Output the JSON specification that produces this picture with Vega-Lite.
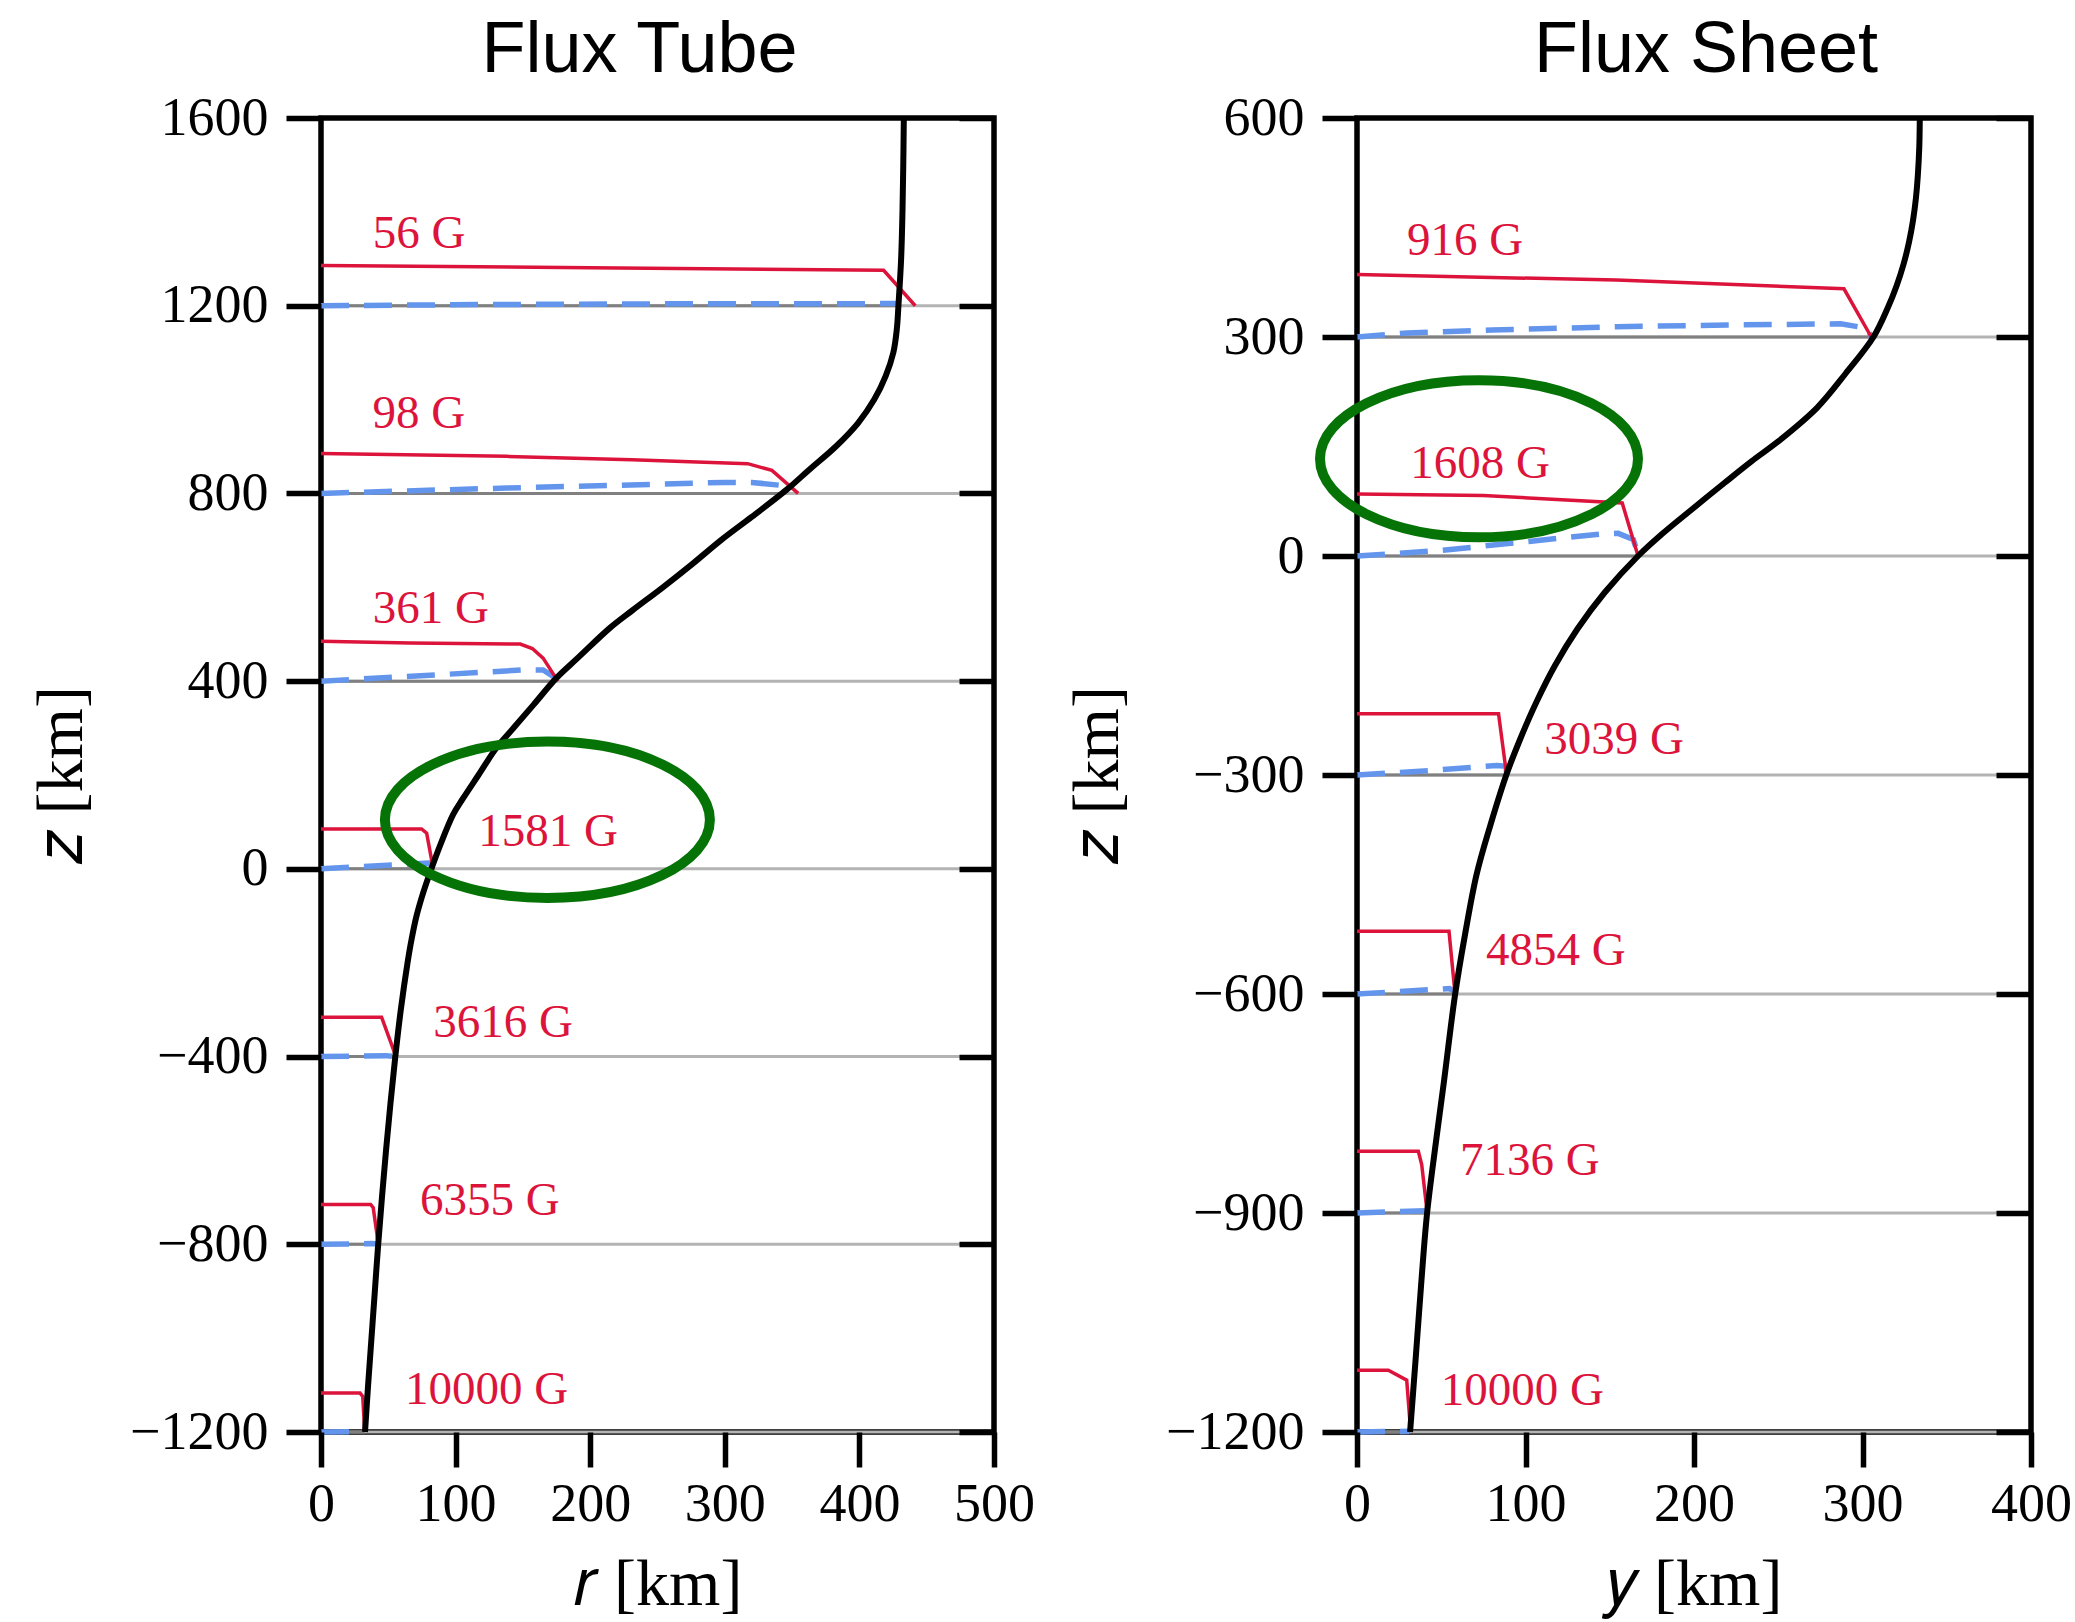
{
  "$schema": "https://vega.github.io/schema/vega-lite/v6.json",
  "background": "white",
  "padding": {"left": 25, "top": 11, "right": 10, "bottom": 0},
  "bounds": "flush",
  "spacing": 363,
  "config": {
    "view": {"stroke": "black", "strokeWidth": 5.5},
    "axis": {
      "domain": false, "grid": false, "tickColor": "black", "tickWidth": 5.5, "tickSize": 35,
      "labelFont": "Liberation Serif", "labelFontSize": 54, "labelColor": "black",
      "labelFlush": false, "labelOverlap": false, "labelBound": false,
      "titleFont": "Liberation Serif", "titleFontSize": 66, "titleFontWeight": "normal", "titleColor": "black",
      "format": "d"
    },
    "axisX": {"labelPadding": 10, "titlePadding": 21},
    "axisY": {"labelPadding": 18, "titlePadding": 34},
    "title": {"font": "Liberation Sans", "fontSize": 72, "fontWeight": "normal", "color": "black", "baseline": "alphabetic", "offset": 4, "frame": "group", "anchor": "middle"},
    "line": {"strokeCap": "butt"}
  },
  "datasets": {
    "tubeCurve": [
      {"r": 433, "z": 1600}, {"r": 432.6, "z": 1500}, {"r": 432, "z": 1400}, {"r": 431, "z": 1300},
      {"r": 429, "z": 1200}, {"r": 427.8, "z": 1150}, {"r": 425.2, "z": 1100}, {"r": 419.5, "z": 1050},
      {"r": 411, "z": 1000}, {"r": 399, "z": 950}, {"r": 382.5, "z": 900}, {"r": 362.5, "z": 850},
      {"r": 346, "z": 808}, {"r": 320, "z": 750}, {"r": 297, "z": 700}, {"r": 276, "z": 650},
      {"r": 254, "z": 600}, {"r": 231, "z": 550}, {"r": 214.5, "z": 513}, {"r": 191, "z": 450},
      {"r": 175, "z": 407}, {"r": 158, "z": 350}, {"r": 143, "z": 300}, {"r": 130.4, "z": 258},
      {"r": 117, "z": 200}, {"r": 105.5, "z": 150}, {"r": 98.2, "z": 116}, {"r": 88.5, "z": 50},
      {"r": 82, "z": 0}, {"r": 76, "z": -50}, {"r": 71, "z": -100}, {"r": 67.3, "z": -150},
      {"r": 64.3, "z": -200}, {"r": 59.3, "z": -300}, {"r": 55.2, "z": -400}, {"r": 51.6, "z": -500},
      {"r": 48.3, "z": -600}, {"r": 45.3, "z": -700}, {"r": 42.5, "z": -800}, {"r": 40, "z": -900},
      {"r": 37.5, "z": -1000}, {"r": 35, "z": -1100}, {"r": 32.7, "z": -1200}
    ],
    "tubeLevels": [
      {"z": 1200, "r": 429}, {"z": 800, "r": 345}, {"z": 400, "r": 174}, {"z": 0, "r": 82},
      {"z": -400, "r": 55}, {"z": -800, "r": 42.5}, {"z": -1200, "r": 32.7}
    ],
    "tubeRed": [
      {"level": 1200, "r": 0, "z": 1285.5}, {"level": 1200, "r": 200, "z": 1281}, {"level": 1200, "r": 418, "z": 1275.5}, {"level": 1200, "r": 441.5, "z": 1200},
      {"level": 800, "r": 0, "z": 885}, {"level": 800, "r": 138, "z": 879}, {"level": 800, "r": 231, "z": 872}, {"level": 800, "r": 317, "z": 863.5}, {"level": 800, "r": 335, "z": 849}, {"level": 800, "r": 354.5, "z": 800},
      {"level": 400, "r": 0, "z": 485}, {"level": 400, "r": 66, "z": 481.5}, {"level": 400, "r": 148, "z": 479}, {"level": 400, "r": 157, "z": 469.5}, {"level": 400, "r": 165, "z": 449}, {"level": 400, "r": 176, "z": 400},
      {"level": 0, "r": 0, "z": 85}, {"level": 0, "r": 74.7, "z": 85}, {"level": 0, "r": 78.5, "z": 76}, {"level": 0, "r": 83.4, "z": 0},
      {"level": -400, "r": 0, "z": -316}, {"level": -400, "r": 45, "z": -316}, {"level": -400, "r": 55.7, "z": -400},
      {"level": -800, "r": 0, "z": -715}, {"level": -800, "r": 36.9, "z": -715}, {"level": -800, "r": 38.8, "z": -722}, {"level": -800, "r": 42.6, "z": -800},
      {"level": -1200, "r": 0, "z": -1117}, {"level": -1200, "r": 29, "z": -1117}, {"level": -1200, "r": 31, "z": -1124}, {"level": -1200, "r": 32.5, "z": -1200}
    ],
    "tubeBlue": [
      {"level": 1200, "r": 0, "z": 1200}, {"level": 1200, "r": 120, "z": 1202.5}, {"level": 1200, "r": 260, "z": 1204}, {"level": 1200, "r": 428, "z": 1204.5},
      {"level": 800, "r": 0, "z": 800}, {"level": 800, "r": 138, "z": 811.5}, {"level": 800, "r": 230, "z": 818}, {"level": 800, "r": 300, "z": 823.5}, {"level": 800, "r": 320, "z": 823.5}, {"level": 800, "r": 346, "z": 816}, {"level": 800, "r": 347, "z": 808},
      {"level": 400, "r": 0, "z": 400}, {"level": 400, "r": 90, "z": 414}, {"level": 400, "r": 150, "z": 424}, {"level": 400, "r": 165, "z": 424}, {"level": 400, "r": 172.5, "z": 410}, {"level": 400, "r": 175, "z": 403},
      {"level": 0, "r": 0, "z": 0}, {"level": 0, "r": 66, "z": 10.6}, {"level": 0, "r": 80, "z": 12.5}, {"level": 0, "r": 83, "z": 3},
      {"level": -400, "r": 0, "z": -400}, {"level": -400, "r": 48, "z": -398}, {"level": -400, "r": 55.5, "z": -400},
      {"level": -800, "r": 0, "z": -800}, {"level": -800, "r": 38, "z": -798.5}, {"level": -800, "r": 42.5, "z": -800},
      {"level": -1200, "r": 0, "z": -1200}, {"level": -1200, "r": 32, "z": -1199}
    ],
    "tubeLabels": [
      {"label": "56 G", "r": 38.4, "z": 1323},
      {"label": "98 G", "r": 38.3, "z": 939},
      {"label": "361 G", "r": 38.4, "z": 524},
      {"label": "1581 G", "r": 116.8, "z": 48},
      {"label": "3616 G", "r": 83.4, "z": -359},
      {"label": "6355 G", "r": 73.5, "z": -737},
      {"label": "10000 G", "r": 62.4, "z": -1140}
    ],
    "tubeMark": [{"r": 168.2, "z": 104.6}],
    "sheetCurve": [
      {"y": 334, "z": 600}, {"y": 333.7, "z": 560}, {"y": 332.8, "z": 520}, {"y": 331.7, "z": 490},
      {"y": 330, "z": 460}, {"y": 327.6, "z": 430}, {"y": 324.4, "z": 400}, {"y": 320.2, "z": 370},
      {"y": 315, "z": 340}, {"y": 306.5, "z": 300}, {"y": 290, "z": 250}, {"y": 273, "z": 203},
      {"y": 250, "z": 157}, {"y": 234.3, "z": 130}, {"y": 218, "z": 100}, {"y": 197.2, "z": 61},
      {"y": 181, "z": 30}, {"y": 166.8, "z": 0}, {"y": 147, "z": -50}, {"y": 130.8, "z": -100},
      {"y": 117.5, "z": -150}, {"y": 106.5, "z": -200}, {"y": 97, "z": -250}, {"y": 88.6, "z": -300},
      {"y": 79, "z": -370}, {"y": 71, "z": -436}, {"y": 64, "z": -520}, {"y": 58.2, "z": -601},
      {"y": 51.6, "z": -720}, {"y": 47, "z": -800}, {"y": 41.6, "z": -900}, {"y": 38, "z": -1000},
      {"y": 34.8, "z": -1100}, {"y": 31.5, "z": -1200}
    ],
    "sheetLevels": [
      {"z": 300, "y": 305.5}, {"z": 0, "y": 166.8}, {"z": -300, "y": 88.8},
      {"z": -600, "y": 58.2}, {"z": -900, "y": 41.4}, {"z": -1200, "y": 31.5}
    ],
    "sheetRed": [
      {"level": 300, "y": 0, "z": 385.5}, {"level": 300, "y": 154, "z": 378}, {"level": 300, "y": 289, "z": 366}, {"level": 300, "y": 305.2, "z": 300},
      {"level": 0, "y": 0, "z": 85}, {"level": 0, "y": 75, "z": 83}, {"level": 0, "y": 157.4, "z": 72.6}, {"level": 0, "y": 166.8, "z": 0},
      {"level": -300, "y": 0, "z": -216}, {"level": -300, "y": 84, "z": -216}, {"level": -300, "y": 88.8, "z": -300},
      {"level": -600, "y": 0, "z": -514}, {"level": -600, "y": 54.6, "z": -514}, {"level": -600, "y": 58.2, "z": -600},
      {"level": -900, "y": 0, "z": -815.5}, {"level": -900, "y": 36.4, "z": -815.5}, {"level": -900, "y": 38.4, "z": -833.7}, {"level": -900, "y": 41.7, "z": -900},
      {"level": -1200, "y": 0, "z": -1115.5}, {"level": -1200, "y": 18.6, "z": -1115.5}, {"level": -1200, "y": 29.5, "z": -1129}, {"level": -1200, "y": 31.9, "z": -1200}
    ],
    "sheetBlue": [
      {"level": 300, "y": 0, "z": 300}, {"level": 300, "y": 30, "z": 305.5}, {"level": 300, "y": 80, "z": 309.5}, {"level": 300, "y": 154, "z": 314}, {"level": 300, "y": 220, "z": 316.5}, {"level": 300, "y": 287, "z": 318}, {"level": 300, "y": 303, "z": 312}, {"level": 300, "y": 305.2, "z": 300},
      {"level": 0, "y": 0, "z": 0}, {"level": 0, "y": 49, "z": 7.4}, {"level": 0, "y": 102, "z": 20}, {"level": 0, "y": 144, "z": 30}, {"level": 0, "y": 155, "z": 31}, {"level": 0, "y": 164, "z": 22.5}, {"level": 0, "y": 166.5, "z": 5},
      {"level": -300, "y": 0, "z": -300}, {"level": -300, "y": 43, "z": -294}, {"level": -300, "y": 83, "z": -287}, {"level": -300, "y": 88.5, "z": -288}, {"level": -300, "y": 88.8, "z": -298},
      {"level": -600, "y": 0, "z": -600}, {"level": -600, "y": 55, "z": -592.6}, {"level": -600, "y": 58, "z": -597},
      {"level": -900, "y": 0, "z": -900}, {"level": -900, "y": 40, "z": -897}, {"level": -900, "y": 41.5, "z": -900},
      {"level": -1200, "y": 0, "z": -1200}, {"level": -1200, "y": 31, "z": -1199}
    ],
    "sheetLabels": [
      {"label": "916 G", "y": 29.6, "z": 412},
      {"label": "1608 G", "y": 31.6, "z": 107},
      {"label": "3039 G", "y": 111.2, "z": -270.7},
      {"label": "4854 G", "y": 76.6, "z": -559.8},
      {"label": "7136 G", "y": 61.1, "z": -848.4},
      {"label": "10000 G", "y": 49.7, "z": -1162.5}
    ],
    "sheetMark": [{"y": 72.4, "z": 133.2}]
  },
  "hconcat": [
    {
      "title": {"text": "Flux Tube", "dx": -18},
      "width": 673,
      "height": 1314,
      "resolve": {"axis": {"y": "independent"}},
      "layer": [
        {
          "data": {"name": "tubeLevels"},
          "mark": {"type": "rule", "color": "#b3b3b3", "strokeWidth": 3},
          "encoding": {
            "y": {"field": "z", "type": "quantitative", "scale": {"domain": [-1200, 1600], "nice": false},
                  "axis": {"orient": "right", "labels": false, "title": null, "tickSize": -35, "zindex": 2, "values": [-1200, -800, -400, 0, 400, 800, 1200, 1600]}}
          }
        },
        {
          "layer": [
            {
              "data": {"name": "tubeLevels"},
              "mark": {"type": "rule", "color": "#808080", "strokeWidth": 3},
              "encoding": {
                "x": {"field": "r", "type": "quantitative", "scale": {"domain": [0, 500], "nice": false},
                      "axis": {"orient": "bottom", "title": "𝑟 [km]", "zindex": 2, "values": [0, 100, 200, 300, 400, 500]}},
                "x2": {"datum": 0},
                "y": {"field": "z", "type": "quantitative", "scale": {"domain": [-1200, 1600], "nice": false},
                      "axis": {"orient": "left", "title": "𝑧 [km]", "zindex": 2, "values": [-1200, -800, -400, 0, 400, 800, 1200, 1600]}}
              }
            },
            {
              "data": {"name": "tubeBlue"},
              "mark": {"type": "line", "color": "#6495ED", "strokeWidth": 5.5, "strokeDash": [28, 15]},
              "encoding": {
                "x": {"field": "r", "type": "quantitative", "scale": {"domain": [0, 500], "nice": false}},
                "y": {"field": "z", "type": "quantitative", "scale": {"domain": [-1200, 1600], "nice": false}},
                "detail": {"field": "level", "type": "nominal"}
              }
            },
            {
              "data": {"name": "tubeRed"},
              "mark": {"type": "line", "color": "#DC143C", "strokeWidth": 3.5},
              "encoding": {
                "x": {"field": "r", "type": "quantitative", "scale": {"domain": [0, 500], "nice": false}},
                "y": {"field": "z", "type": "quantitative", "scale": {"domain": [-1200, 1600], "nice": false}},
                "detail": {"field": "level", "type": "nominal"}
              }
            },
            {
              "data": {"name": "tubeCurve"},
              "mark": {"type": "line", "color": "black", "strokeWidth": 6, "interpolate": "catmull-rom"},
              "encoding": {
                "x": {"field": "r", "type": "quantitative", "scale": {"domain": [0, 500], "nice": false}},
                "y": {"field": "z", "type": "quantitative", "scale": {"domain": [-1200, 1600], "nice": false}},
                "order": {"field": "z", "type": "quantitative"}
              }
            },
            {
              "data": {"name": "tubeLabels"},
              "mark": {"type": "text", "color": "#DC143C", "font": "Liberation Serif", "fontSize": 47, "align": "left", "baseline": "alphabetic"},
              "encoding": {
                "x": {"field": "r", "type": "quantitative", "scale": {"domain": [0, 500], "nice": false}},
                "y": {"field": "z", "type": "quantitative", "scale": {"domain": [-1200, 1600], "nice": false}},
                "text": {"field": "label", "type": "nominal"}
              }
            },
            {
              "data": {"name": "tubeMark"},
              "mark": {"type": "point", "shape": "M -1 0 A 1 0.481 0 1 0 1 0 A 1 0.481 0 1 0 -1 0 Z", "filled": false, "color": "#067306", "strokeWidth": 10, "size": 105625, "opacity": 1},
              "encoding": {
                "x": {"field": "r", "type": "quantitative", "scale": {"domain": [0, 500], "nice": false}},
                "y": {"field": "z", "type": "quantitative", "scale": {"domain": [-1200, 1600], "nice": false}}
              }
            }
          ]
        }
      ]
    },
    {
      "title": {"text": "Flux Sheet", "dx": 12},
      "width": 674,
      "height": 1314,
      "resolve": {"axis": {"y": "independent"}},
      "layer": [
        {
          "data": {"name": "sheetLevels"},
          "mark": {"type": "rule", "color": "#b3b3b3", "strokeWidth": 3},
          "encoding": {
            "y": {"field": "z", "type": "quantitative", "scale": {"domain": [-1200, 600], "nice": false},
                  "axis": {"orient": "right", "labels": false, "title": null, "tickSize": -35, "zindex": 2, "values": [-1200, -900, -600, -300, 0, 300, 600]}}
          }
        },
        {
          "layer": [
            {
              "data": {"name": "sheetLevels"},
              "mark": {"type": "rule", "color": "#808080", "strokeWidth": 3},
              "encoding": {
                "x": {"field": "y", "type": "quantitative", "scale": {"domain": [0, 400], "nice": false},
                      "axis": {"orient": "bottom", "title": "𝑦 [km]", "zindex": 2, "values": [0, 100, 200, 300, 400]}},
                "x2": {"datum": 0},
                "y": {"field": "z", "type": "quantitative", "scale": {"domain": [-1200, 600], "nice": false},
                      "axis": {"orient": "left", "title": "𝑧 [km]", "zindex": 2, "values": [-1200, -900, -600, -300, 0, 300, 600]}}
              }
            },
            {
              "data": {"name": "sheetBlue"},
              "mark": {"type": "line", "color": "#6495ED", "strokeWidth": 5.5, "strokeDash": [28, 15]},
              "encoding": {
                "x": {"field": "y", "type": "quantitative", "scale": {"domain": [0, 400], "nice": false}},
                "y": {"field": "z", "type": "quantitative", "scale": {"domain": [-1200, 600], "nice": false}},
                "detail": {"field": "level", "type": "nominal"}
              }
            },
            {
              "data": {"name": "sheetRed"},
              "mark": {"type": "line", "color": "#DC143C", "strokeWidth": 3.5},
              "encoding": {
                "x": {"field": "y", "type": "quantitative", "scale": {"domain": [0, 400], "nice": false}},
                "y": {"field": "z", "type": "quantitative", "scale": {"domain": [-1200, 600], "nice": false}},
                "detail": {"field": "level", "type": "nominal"}
              }
            },
            {
              "data": {"name": "sheetCurve"},
              "mark": {"type": "line", "color": "black", "strokeWidth": 6, "interpolate": "catmull-rom"},
              "encoding": {
                "x": {"field": "y", "type": "quantitative", "scale": {"domain": [0, 400], "nice": false}},
                "y": {"field": "z", "type": "quantitative", "scale": {"domain": [-1200, 600], "nice": false}},
                "order": {"field": "z", "type": "quantitative"}
              }
            },
            {
              "data": {"name": "sheetLabels"},
              "mark": {"type": "text", "color": "#DC143C", "font": "Liberation Serif", "fontSize": 47, "align": "left", "baseline": "alphabetic"},
              "encoding": {
                "x": {"field": "y", "type": "quantitative", "scale": {"domain": [0, 400], "nice": false}},
                "y": {"field": "z", "type": "quantitative", "scale": {"domain": [-1200, 600], "nice": false}},
                "text": {"field": "label", "type": "nominal"}
              }
            },
            {
              "data": {"name": "sheetMark"},
              "mark": {"type": "point", "shape": "M -1 0 A 1 0.494 0 1 0 1 0 A 1 0.494 0 1 0 -1 0 Z", "filled": false, "color": "#067306", "strokeWidth": 10, "size": 101124, "opacity": 1},
              "encoding": {
                "x": {"field": "y", "type": "quantitative", "scale": {"domain": [0, 400], "nice": false}},
                "y": {"field": "z", "type": "quantitative", "scale": {"domain": [-1200, 600], "nice": false}}
              }
            }
          ]
        }
      ]
    }
  ]
}
